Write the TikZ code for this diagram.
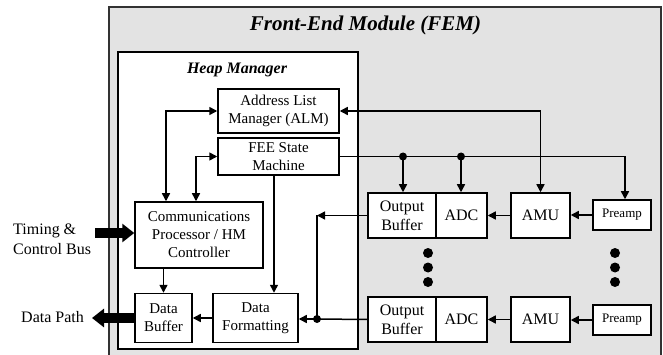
\documentclass[tikz,border=0pt]{standalone}
\usepackage{fontspec}
\setmainfont{Liberation Serif}
\usetikzlibrary{arrows.meta}
\definecolor{femfill}{RGB}{227,227,227}
\definecolor{femline}{RGB}{50,50,50}
\tikzset{
  blk/.style={draw=black, line width=1.5pt, fill=white, inner sep=0pt, align=center,
              font=\fontsize{15}{18}\selectfont},
  blkr/.style={blk, font=\fontsize{16}{19}\selectfont},
  wire/.style={line width=1.5pt},
  arr/.style={wire, -{Triangle[length=8pt,width=8pt]}},
  darr/.style={wire, {Triangle[length=8pt,width=8pt]}-{Triangle[length=8pt,width=8pt]}},
  bus/.style={line width=10pt, -{Triangle[length=12pt,width=18pt]}},
  jdot/.style={circle, fill=black, inner sep=0pt, minimum size=8pt},
  edot/.style={circle, fill=black, inner sep=0pt, minimum size=10pt},
  lbl/.style={inner sep=0pt, align=left, font=\fontsize{16}{20}\selectfont},
}
\begin{document}
\begin{tikzpicture}[x=1pt,y=-1pt]
\useasboundingbox (0,0) rectangle (663,355);
\clip (0,0) rectangle (663,355);
% FEM module
\draw[femline, line width=2pt, fill=femfill] (108.5,7) rectangle (661,365);
\node[inner sep=0pt, anchor=base, font=\fontsize{21}{25}\selectfont\bfseries\itshape] (femt) at (365.5,31) {Front-End Module (FEM)};
% Heap manager
\draw[black, line width=1.5pt, fill=white] (118,52) rectangle (358,349);
\node[inner sep=0pt, anchor=base, font=\fontsize{16}{19}\selectfont\bfseries\itshape] (hmt) at (237,74) {Heap Manager};

% boxes
\node[blk, minimum width=121pt, minimum height=44pt] (alm) at (278.5,111) {Address List\\Manager (ALM)};
\node[blk, minimum width=121pt, minimum height=37pt] (fee) at (278.5,156.5) {FEE State\\Machine};
\node[blk, minimum width=128pt, minimum height=66pt] (comm) at (199,235) {Communications\\Processor / HM\\Controller};
\node[blk, minimum width=57pt, minimum height=49pt] (dbuf) at (163.5,318) {Data\\Buffer};
\node[blk, minimum width=85pt, minimum height=49pt] (dfmt) at (255.5,318) {Data\\Formatting};

\node[blkr, minimum width=68pt, minimum height=45pt] (ob1) at (402,215.5) {Output\\Buffer};
\node[blkr, minimum width=51pt, minimum height=45pt] (adc1) at (461.5,215.5) {ADC};
\node[blkr, minimum width=59pt, minimum height=45pt] (amu1) at (540.5,215.5) {AMU};
\node[blk, font=\fontsize{13}{15}\selectfont, minimum width=58pt, minimum height=30pt] (pre1) at (622,215) {Preamp};

\node[blkr, minimum width=68pt, minimum height=45pt] (ob2) at (402,319.5) {Output\\Buffer};
\node[blkr, minimum width=51pt, minimum height=45pt] (adc2) at (461.5,319.5) {ADC};
\node[blkr, minimum width=59pt, minimum height=45pt] (amu2) at (540.5,319.5) {AMU};
\node[blk, font=\fontsize{13}{15}\selectfont, minimum width=58pt, minimum height=30pt] (pre2) at (622,320) {Preamp};

% external labels
\node[lbl, anchor=west] (tcb) at (13,239) {Timing \&\\Control Bus};
\node[lbl, anchor=west] (dp) at (21,317) {Data Path};
\coordinate (tcbs) at (95,233);
\coordinate (dpe) at (92,318);
\draw[bus] (tcbs) -- (tcbs -| comm.west);
\draw[bus] (dbuf.west) -- (dpe);

% heap manager connections
\draw[darr] (alm.west) -| ([xshift=-33pt]comm.north);
\draw[darr] (fee.west) -| ([xshift=-3pt]comm.north);
\draw[arr] ([xshift=-4.5pt]fee.south) -- ([xshift=-4.5pt]fee.south |- dfmt.north);
\draw[arr] (dbuf.north |- comm.south) -- (dbuf.north);
\draw[arr] (dfmt.west) -- (dbuf.east);

% ALM <-> AMU
\draw[darr] (alm.east) -| (amu1.north);
% FEE to channel
\coordinate (d1) at (403,156.5);
\coordinate (d2) at (461,156.5);
\draw[arr] (fee.east) -| ([xshift=3pt]pre1.north);
\draw[arr] (d1) -- (d1 |- ob1.north);
\draw[arr] (d2) -- (d2 |- adc1.north);
\node[jdot] (j1) at (d1) {};
\node[jdot] (j2) at (d2) {};

% channel chains
\draw[arr] (pre1.west) -- (pre1.west -| amu1.east);
\draw[arr] (amu1.west) -- (adc1.east);
\draw[arr] (pre2.west) -- (pre2.west -| amu2.east);
\draw[arr] (amu2.west) -- (adc2.east);

% outputs
\coordinate (c1) at (317,215.5);
\coordinate (jc) at (317,319);
\draw[arr] (ob1.west) -- (c1);
\draw[wire] (c1) -- (jc);
\draw[wire] (ob2.west) -- (jc);
\draw[arr] (jc) -- (jc -| dfmt.east);
\node[jdot] (j3) at (jc) {};

% ellipsis dots
\node[edot] (e1) at (428,253) {};
\node[edot] (e2) at (428,267.5) {};
\node[edot] (e3) at (428,282) {};
\node[edot] (e4) at (615,253) {};
\node[edot] (e5) at (615,267.5) {};
\node[edot] (e6) at (615,282) {};
\end{tikzpicture}
\end{document}
